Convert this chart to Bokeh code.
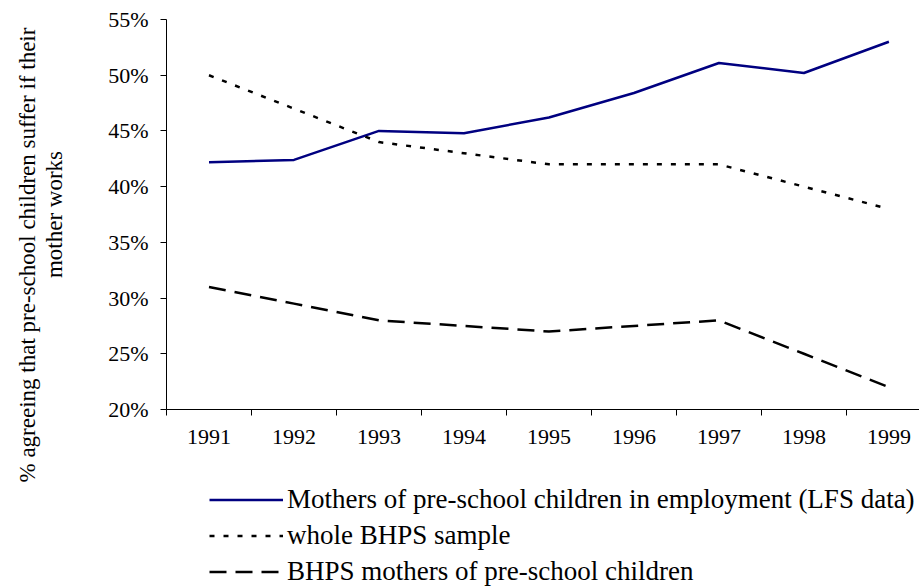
from bokeh.plotting import figure
from bokeh.layouts import column
from bokeh.models import (Range1d, FixedTicker, PrintfTickFormatter, Legend, LegendItem, Title)
from bokeh.embed import file_html
from bokeh.resources import INLINE

years = [1991, 1992, 1993, 1994, 1995, 1996, 1997, 1998, 1999]
lfs_mothers_employed = [42.2, 42.4, 45.0, 44.8, 46.2, 48.4, 51.1, 50.2, 53.0]
bhps_whole = [50, 47, 44, 43, 42, 42, 42, 40, 38]
bhps_mothers = [31, 29.5, 28, 27.5, 27, 27.5, 28, 25, 22]
y_ticks = [20, 25, 30, 35, 40, 45, 50, 55]
series_names = ["Mothers of pre-school children in employment (LFS data)",
                "whole BHPS sample",
                "BHPS mothers of pre-school children"]
y_title_lines = ["% agreeing that pre-school children suffer if their", "mother works"]

FONT = "Liberation Serif"
styles = [dict(line_color="#000080", line_width=2.5),
          dict(line_color="black", line_width=2.5, line_dash="5 9"),
          dict(line_color="black", line_width=2.5, line_dash="17 9")]
series = [lfs_mothers_employed, bhps_whole, bhps_mothers]

p = figure(width=919, height=484, output_backend="svg", toolbar_location=None,
           x_range=Range1d(1990.5, 1999.36), y_range=Range1d(20, 55),
           min_border_left=166, min_border_top=19, min_border_bottom=75,
           min_border_right=0)
p.outline_line_color = None
p.grid.visible = False
p.background_fill_color = "white"
p.border_fill_color = "white"

xa = p.xaxis[0]
xa.ticker = FixedTicker(ticks=years, minor_ticks=[y - 0.5 for y in years])
xa.major_tick_out = 0
xa.major_tick_in = 0
xa.minor_tick_out = 6
xa.minor_tick_in = 0
xa.minor_tick_line_color = "black"
xa.axis_line_color = "black"
xa.major_label_text_font = FONT
xa.major_label_text_font_size = "22px"
xa.major_label_text_color = "black"
xa.major_label_standoff = 14

ya = p.yaxis[0]
ya.ticker = FixedTicker(ticks=y_ticks, minor_ticks=[])
ya.formatter = PrintfTickFormatter(format="%d%%")
ya.major_tick_out = 6
ya.major_tick_in = 0
ya.axis_line_color = "black"
ya.major_tick_line_color = "black"
ya.major_label_text_font = FONT
ya.major_label_text_font_size = "22px"
ya.major_label_text_color = "black"
ya.major_label_standoff = 12
# second line of the vertical title
ya.axis_label = y_title_lines[1]
ya.axis_label_text_font = FONT
ya.axis_label_text_font_size = "23px"
ya.axis_label_text_font_style = "normal"
ya.axis_label_text_color = "black"
ya.axis_label_standoff = 38

# first line of the vertical title, outside the axis label
t1 = Title(text=y_title_lines[0], align="left", offset=-73, standoff=0,
           text_font=FONT, text_font_size="23px", text_font_style="normal",
           text_color="black")
p.add_layout(t1, "left")

for vals, st in zip(series, styles):
    p.line(years, vals, **st)

# legend strip below the chart
p2 = figure(width=919, height=103, output_backend="svg", toolbar_location=None,
            x_range=Range1d(0, 1), y_range=Range1d(0, 1),
            min_border_left=0, min_border_right=0, min_border_top=0, min_border_bottom=0)
p2.axis.visible = False
p2.grid.visible = False
p2.outline_line_color = None
p2.background_fill_color = "white"
p2.border_fill_color = "white"
items = []
for name, vals, st in zip(series_names, series, styles):
    r = p2.line(years, vals, **st)  # lies outside p2's ranges: only its legend sample shows
    items.append(LegendItem(label=name, renderers=[r]))

legend = Legend(items=items, location=(43, 0))
legend.border_line_color = None
legend.background_fill_alpha = 0
legend.padding = 0
legend.margin = 0
legend.spacing = 5
legend.glyph_width = 74
legend.glyph_height = 31
legend.label_height = 31
legend.label_standoff = 4
legend.label_text_font = FONT
legend.label_text_font_size = "27px"
legend.label_text_color = "black"
p2.add_layout(legend, "center")

open("out.html", "w").write(file_html(column(p, p2), INLINE))
